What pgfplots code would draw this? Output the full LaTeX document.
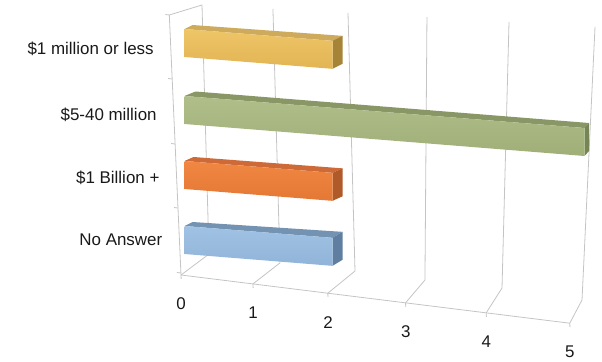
\documentclass[border=0pt]{standalone}
\usepackage{fontspec}
\setmainfont{Liberation Sans}
\usepackage{pgfplots}
\pgfplotsset{compat=1.18}

\definecolor{gridc}{RGB}{196,196,196}
\definecolor{yfrontT}{RGB}{238,197,104}
\definecolor{yfrontB}{RGB}{226,180,84}
\definecolor{ytop}{RGB}{205,170,92}
\definecolor{yside}{RGB}{165,132,55}
\definecolor{gfrontT}{RGB}{176,190,138}
\definecolor{gfrontB}{RGB}{160,175,120}
\definecolor{gtop}{RGB}{136,151,101}
\definecolor{gside}{RGB}{118,133,84}
\definecolor{ofrontT}{RGB}{240,135,66}
\definecolor{ofrontB}{RGB}{228,120,52}
\definecolor{otop}{RGB}{205,106,55}
\definecolor{oside}{RGB}{176,90,42}
\definecolor{bfrontT}{RGB}{160,194,228}
\definecolor{bfrontB}{RGB}{144,180,216}
\definecolor{btop}{RGB}{116,146,177}
\definecolor{bside}{RGB}{96,126,160}

\begin{document}
\begin{tikzpicture}[x=1bp,y=1bp]
\useasboundingbox (0,0) rectangle (602,361);

% ---------- floor, walls, ticks and labels ----------
\begin{axis}[
  at={(181bp,86bp)}, anchor=origin,
  x={(1bp,-0.124bp)}, y={(-0.045bp,1bp)},
  x coord trafo/.code={\pgfmathparse{70.5*(#1)+1.45*(#1)*(#1)}},
  xmin=0, xmax=5, ymin=0, ymax=260,
  clip=false,
  axis line style={draw=none},
  tick align=outside,
  xtick pos=left, ytick pos=left,
  xtick={0,1,2,3,4,5},
  xticklabels={0,1,2,3,4,5},
  major tick length=4bp,
  xtick style={draw=gridc, line width=0.8bp},
  ytick={35,97,160,226},
  yticklabels={No Answer,\$1 Billion +,\$5-40 million,\$1 million or less},
  ytick style={draw=none},
  extra y ticks={2,67,131,196,260},
  extra y tick labels={},
  extra y tick style={ytick style={draw=gridc, line width=0.8bp}},
  /pgf/number format/assume math mode=true,
  tick label style={font=\fontsize{17}{20}\selectfont, text=black!90},
  xticklabel style={anchor=center, yshift=-25bp},
  yticklabel style={anchor=east, inner sep=0pt, xshift=-13bp},
]
\addplot[draw=none] coordinates {(0,0) (5,0)};
% front floor line and left wall front edge
\draw[gridc, line width=0.8bp] (axis cs:0,0) -- (axis cs:5,0);
\draw[gridc, line width=0.8bp] (axis cs:0,0) -- (axis cs:0,260) -- ++(32.7bp,10bp);
% floor depth lines and back wall lines
\draw[gridc, line width=0.8bp] (axis cs:0,0) -- ++(28bp,21bp) -- ++(-7bp,249bp);
\draw[gridc, line width=0.8bp] (axis cs:1,0) -- ++(27bp,21bp) -- ++(-7bp,254bp);
\draw[gridc, line width=0.8bp] (axis cs:2,0) -- ++(27.2bp,22.2bp) -- ++(-7bp,258bp);
\draw[gridc, line width=0.8bp] (axis cs:3,0) -- ++(19.4bp,22.8bp) -- ++(2bp,263bp);
\draw[gridc, line width=0.8bp] (axis cs:4,0) -- ++(15.8bp,24.8bp) -- ++(7bp,266bp);
\draw[gridc, line width=0.8bp] (axis cs:5,0) -- ++(12.25bp,23.2bp) -- ++(13bp,273bp);
\end{axis}

% ---------- bars (front face from the values, top and end faces for depth) ----------
\begin{axis}[
  at={(184.5bp,61bp)}, anchor=origin,
  x={(1bp,-0.08bp)}, y={(0bp,1bp)},
  x coord trafo/.code={\pgfmathparse{70*(#1)+2*(#1)*(#1)}},
  xmin=0, xmax=5, ymin=0, ymax=290,
  hide axis, clip=false,
]
% $1 million or less : 2
\fill[ytop] (axis cs:0,271) -- (axis cs:2,271) -- ([shift={(10bp,5bp)}]axis cs:2,271) -- ([shift={(8bp,4bp)}]axis cs:0,271) -- cycle;
\fill[yside] (axis cs:2,271) -- (axis cs:2,243) -- ([shift={(10bp,5bp)}]axis cs:2,243) -- ([shift={(10bp,5bp)}]axis cs:2,271) -- cycle;
\addplot[draw=none, top color=yfrontT, bottom color=yfrontB] coordinates {(0,243) (2,243) (2,271) (0,271)} -- cycle;
% $5-40 million : 5
\fill[gtop] (axis cs:0,204) -- (axis cs:5,204) -- ([shift={(4.5bp,5bp)}]axis cs:5,204) -- ([shift={(11bp,4.5bp)}]axis cs:0,204) -- cycle;
\fill[gside] (axis cs:5,204) -- (axis cs:5,176) -- ([shift={(4.5bp,5bp)}]axis cs:5,176) -- ([shift={(4.5bp,5bp)}]axis cs:5,204) -- cycle;
\addplot[draw=none, top color=gfrontT, bottom color=gfrontB] coordinates {(0,176) (5,176) (5,204) (0,204)} -- cycle;
% $1 Billion + : 2
\fill[otop] (axis cs:0,139) -- (axis cs:2,139) -- ([shift={(10bp,4.5bp)}]axis cs:2,139) -- ([shift={(9bp,4bp)}]axis cs:0,139) -- cycle;
\fill[oside] (axis cs:2,139) -- (axis cs:2,111) -- ([shift={(10bp,4.5bp)}]axis cs:2,111) -- ([shift={(10bp,4.5bp)}]axis cs:2,139) -- cycle;
\addplot[draw=none, top color=ofrontT, bottom color=ofrontB] coordinates {(0,111) (2,111) (2,139) (0,139)} -- cycle;
% No Answer : 2
\fill[btop] (axis cs:0,74) -- (axis cs:2,74) -- ([shift={(10bp,6bp)}]axis cs:2,74) -- ([shift={(8bp,4bp)}]axis cs:0,74) -- cycle;
\fill[bside] (axis cs:2,74) -- (axis cs:2,46) -- ([shift={(10bp,6bp)}]axis cs:2,46) -- ([shift={(10bp,6bp)}]axis cs:2,74) -- cycle;
\addplot[draw=none, top color=bfrontT, bottom color=bfrontB] coordinates {(0,46) (2,46) (2,74) (0,74)} -- cycle;
\end{axis}
\end{tikzpicture}
\end{document}
